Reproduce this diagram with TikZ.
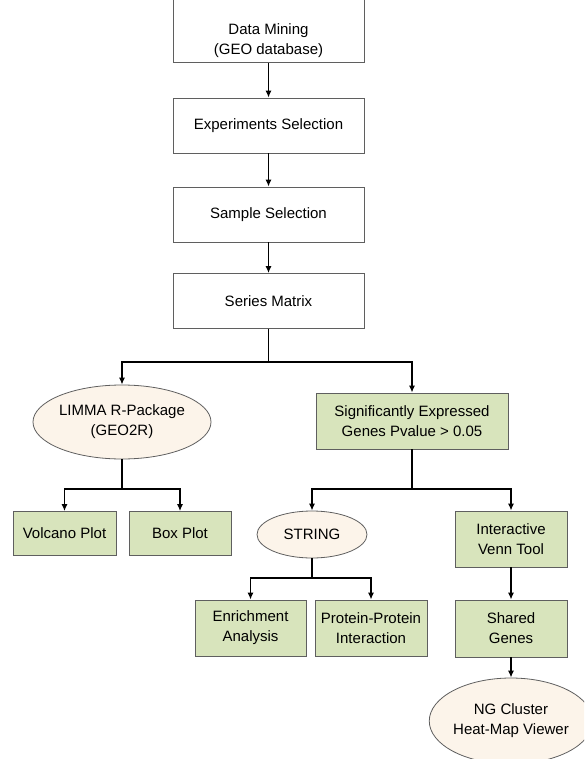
\documentclass[tikz,border=0pt]{standalone}
\usepackage{fontspec}
\setmainfont{Liberation Sans}
\usetikzlibrary{shapes, arrows.meta}
\definecolor{leaf}{RGB}{216,228,188}
\definecolor{shell}{RGB}{252,244,234}
\definecolor{rim}{RGB}{95,95,95}

\begin{document}
\begin{tikzpicture}[x=1pt, y=-1pt, >={Latex[length=7pt,width=6pt]}]
	\tikzstyle{every node} = [rectangle, draw=rim, align=center, inner sep=0pt, font=\fontsize{15}{20}\selectfont, line width=0.8pt]
	\tikzstyle{plain} = [fill=white, minimum width=191pt, minimum height=55pt]
	\tikzstyle{leafbox} = [fill=leaf, minimum width=112pt, minimum height=56pt]
	\tikzstyle{oval} = [ellipse, fill=shell]
	\tikzstyle{flow} = [line width=1.3pt]
	\useasboundingbox (0,0) rectangle (584,759);
	\clip (0,0) rectangle (584,759);
	
	%top chain, first box runs off the page
	\node[plain, anchor=south, text height=59.5pt, text depth=8.5pt] (data_mining) at (268.5,63) {Data Mining\\(GEO database)};
	\node[plain] (exp_sel) at (268.5,125.5) {Experiments Selection};
	\node[plain] (sample_sel) at (268.5,214.5) {Sample Selection};
	\node[plain] (series) at (268.5,301) {Series Matrix};
	\node[oval, minimum width=176pt, minimum height=74pt] (limma) at (122,422) {LIMMA R-Package\\(GEO2R)};
	\node[leafbox, minimum width=192pt] (sig_genes) at (412,421) {Significantly Expressed\\Genes Pvalue > 0.05};
	\node[leafbox, minimum width=103pt, minimum height=44pt] (volcano) at (64.5,533.5) {Volcano Plot};
	\node[leafbox, minimum width=102pt, minimum height=44pt] (box_plot) at (180,533.5) {Box Plot};
	\node[oval, minimum width=110pt, minimum height=47pt] (string) at (312,534.5) {STRING};
	\node[leafbox] (venn) at (511,539) {Interactive\\Venn Tool};
	\node[leafbox, minimum width=111pt] (enrich) at (250.5,628) {Enrichment\\Analysis};
	\node[leafbox] (ppi) at (371,628) {Protein-Protein\\Interaction};
	\node[leafbox, minimum height=57pt] (shared) at (511,628.5) {Shared\\Genes};
	\node[oval, minimum width=148pt, minimum height=86pt] (ng_cluster) at (511,721) {NG Cluster\\Heat-Map Viewer};
	
	%branch points
	\coordinate (split_a) at (268.5,362);
	\coordinate (split_b) at (122,489);
	\coordinate (split_c) at (412,489);
	\coordinate (split_d) at (312,578);
	
	\draw[flow]
	(data_mining) edge[->] (exp_sel)
	(exp_sel) edge[->] (sample_sel)
	(sample_sel) edge[->] (series)
	(series) edge (split_a)
	(limma) edge (split_b)
	(sig_genes) edge (split_c)
	(string) edge (split_d)
	(venn) edge[->] (shared)
	(shared) edge[->] (ng_cluster)
	;
	\draw[flow, ->] (split_a) -| (limma);
	\draw[flow, ->] (split_a) -| (sig_genes);
	\draw[flow, ->] (split_b) -| (volcano);
	\draw[flow, ->] (split_b) -| (box_plot);
	\draw[flow, ->] (split_c) -| (string);
	\draw[flow, ->] (split_c) -| (venn);
	\draw[flow, ->] (split_d) -| (enrich);
	\draw[flow, ->] (split_d) -| (ppi);
\end{tikzpicture}
\end{document}
